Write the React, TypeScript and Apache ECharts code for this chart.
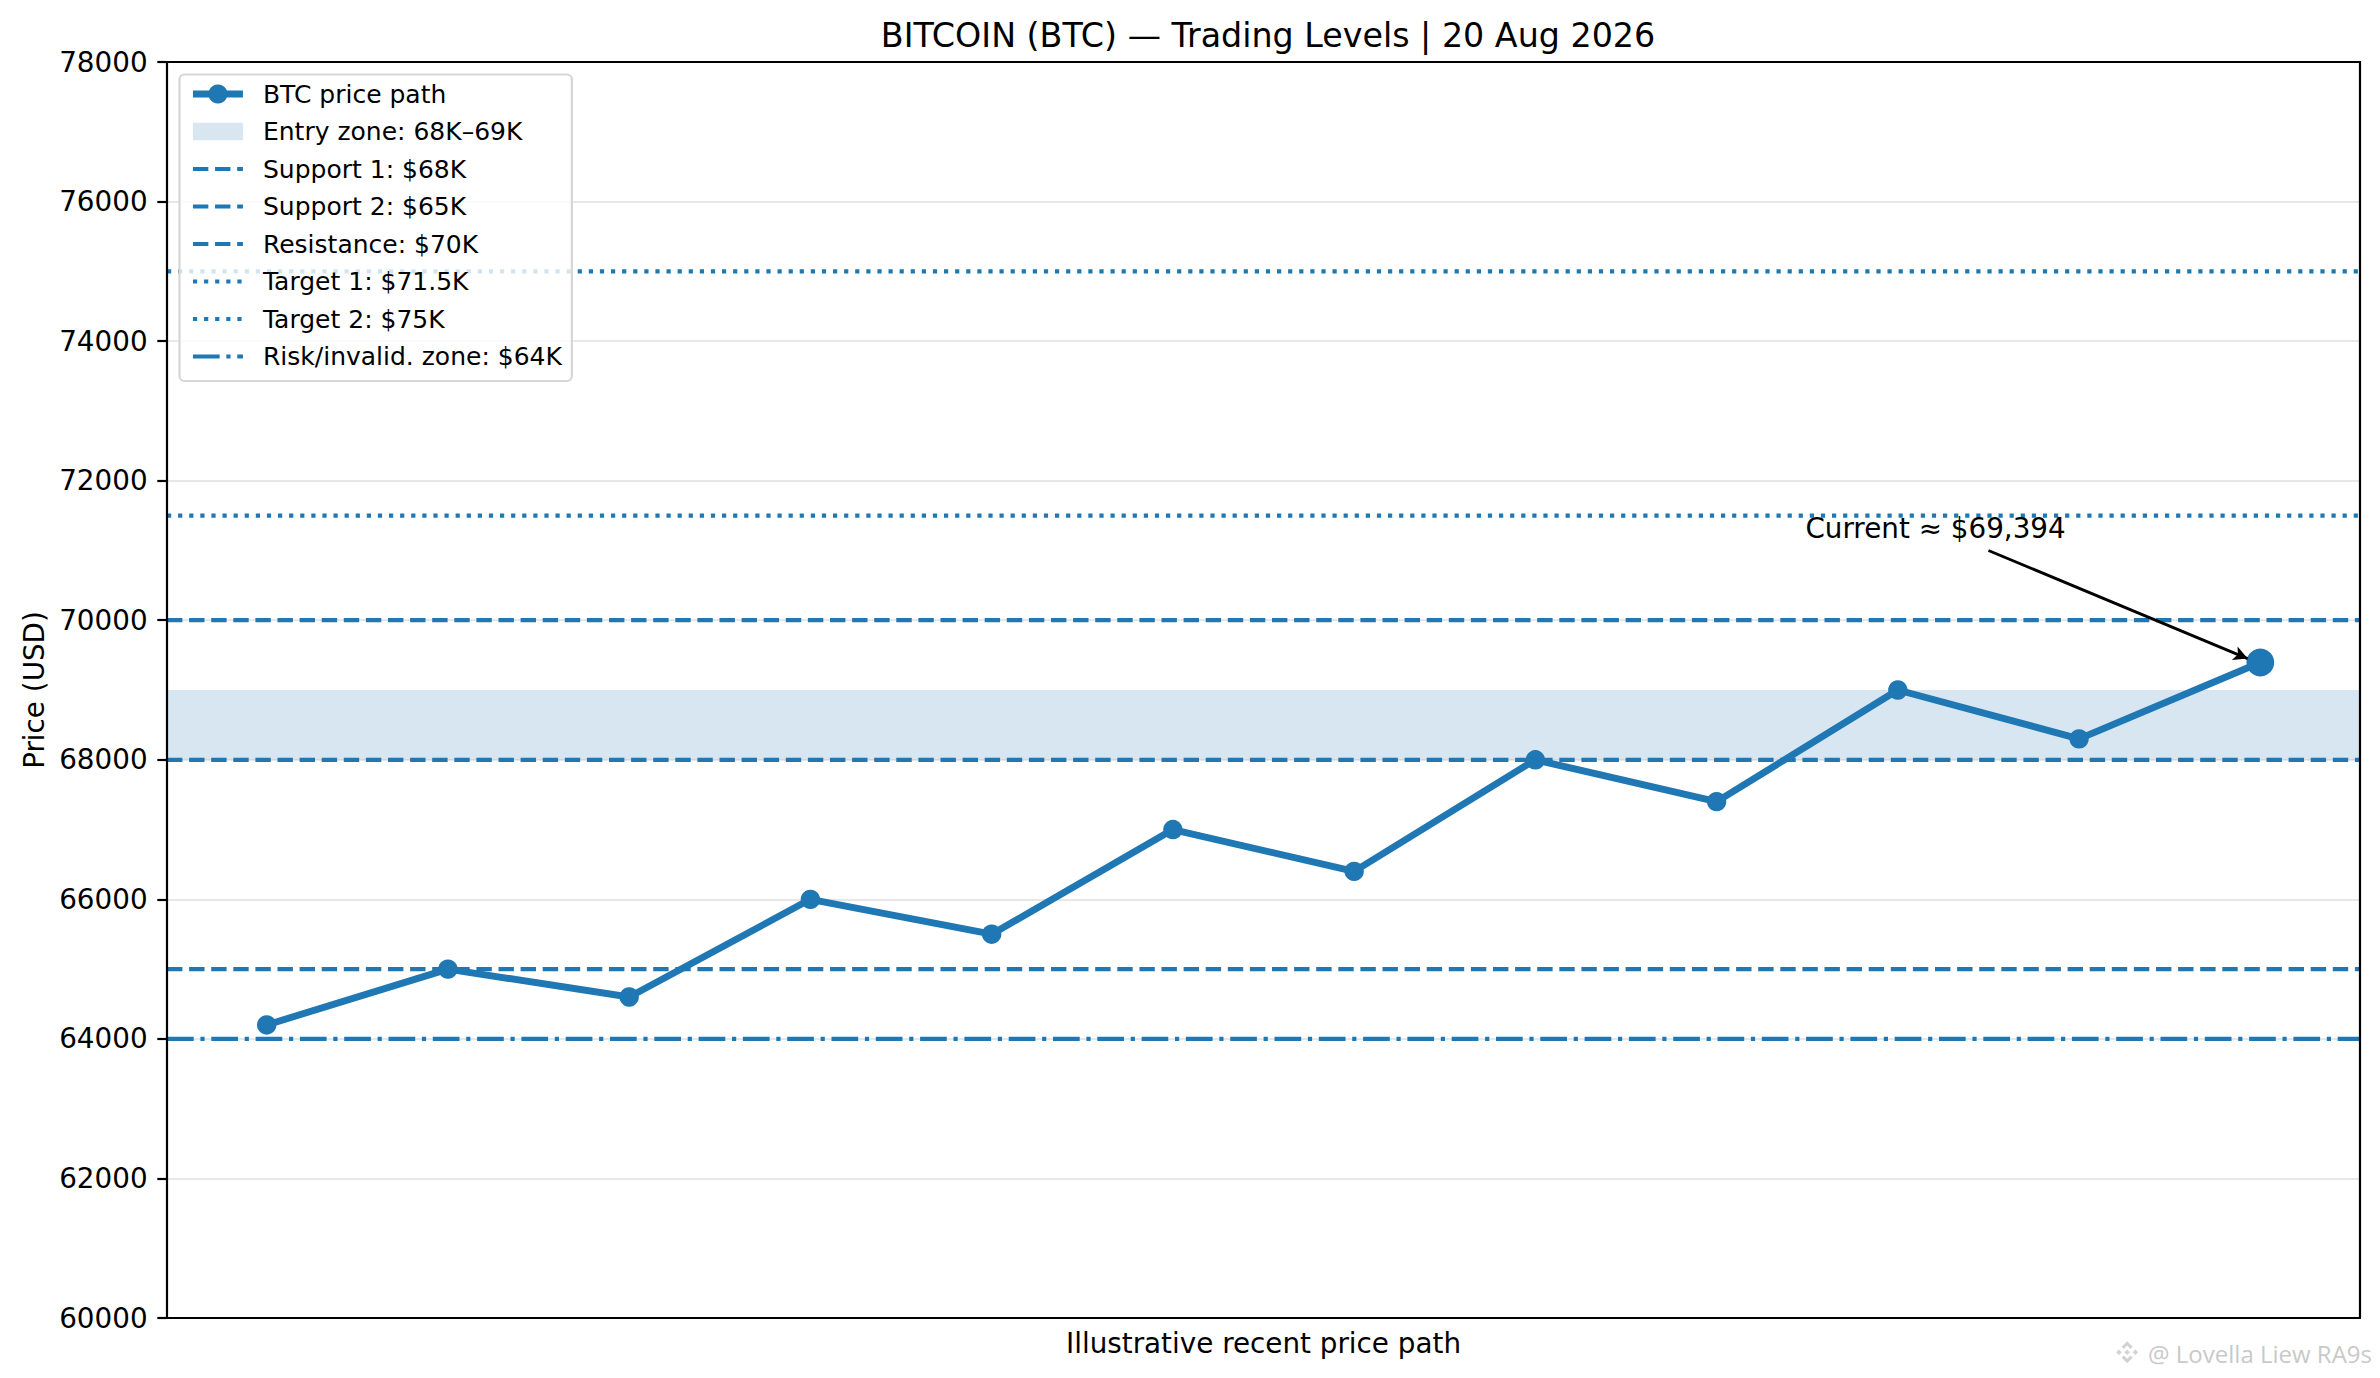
import { useEffect, useRef } from "react";
import * as echarts from "echarts";

// price path (index along x)
const prices = [64200, 65000, 64600, 66000, 65500, 67000, 66400, 68000, 67400, 69000, 68300, 69394];
const priceName = "BTC price path";

const zoneName = "Entry zone: 68K–69K";
const zoneRange = [68000, 69000];

const levelNames = [
  "Support 1: $68K",
  "Support 2: $65K",
  "Resistance: $70K",
  "Target 1: $71.5K",
  "Target 2: $75K",
  "Risk/invalid. zone: $64K",
];
const levelValues = [68000, 65000, 70000, 71500, 75000, 64000];
const levelKinds = ["dashed", "dashed", "dashed", "dotted", "dotted", "dashdot"];

const yMin = 60000;
const yMax = 78000;
const yStep = 2000;

const annotationText = "Current ≈ $69,394";
const annotationAnchor = [8.49, 71320];
const arrowStart = [9.5, 71000];
const arrowEnd = [10.93, 69450];

const BLUE = "#1f77b4";
const ZONE = "rgba(31,119,180,0.18)";
const FONT = "DejaVu Sans";

const DASH: Record<string, number[]> = {
  dashed: [15.4, 6.7],
  dotted: [4.2, 6.9],
  dashdot: [26.7, 6.7, 4.2, 6.7],
};

// matplotlib-like 5% margins on x
const xMin = -0.05 * (prices.length - 1);
const xMax = prices.length - 1 + 0.05 * (prices.length - 1);

// legend patch: 50x17.5 box inside a 50x24 icon (tiny corner anchors keep the box from stretching)
const ZONE_ICON =
  "path://M0,0L0.01,0L0,0.01Z M0,3.25L50,3.25L50,20.75L0,20.75Z M49.99,24L50,24L50,23.99Z";

const LOGO_D =
  "M12 2L17 7L15 9L12 6L9 9L7 7Z M12 22L7 17L9 15L12 18L15 15L17 17Z M2 12L4.5 9.5L7 12L4.5 14.5Z M22 12L19.5 9.5L17 12L19.5 14.5Z M12 9.5L14.5 12L12 14.5L9.5 12Z";
echarts.graphic.registerShape("logo", echarts.graphic.extendPath(LOGO_D, {}));

export default function App() {
  const chartRef = useRef<HTMLDivElement>(null);

  useEffect(() => {
    document.body.style.margin = "0";
    if (!chartRef.current) return;
    const chart = echarts.init(chartRef.current, undefined, { renderer: "svg" });

    const priceData = prices.map((v, i) =>
      i === prices.length - 1 ? { value: [i, v], symbolSize: 27.8 } : { value: [i, v] }
    );

    const levelSeries = levelNames.map((name, i) => ({
      type: "line",
      name,
      data: [
        [xMin, levelValues[i]],
        [xMax, levelValues[i]],
      ],
      symbol: "none",
      silent: true,
      z: 3,
      lineStyle: { color: BLUE, width: 4.2, type: DASH[levelKinds[i]] },
      itemStyle: { color: BLUE },
    }));

    const spine = { show: true, onZero: false, lineStyle: { color: "#000", width: 2.2 } };
    const bare = {
      axisTick: { show: false },
      axisLabel: { show: false },
      splitLine: { show: false },
    };

    const option: any = {
      animation: false,
      textStyle: { fontFamily: FONT },
      title: {
        text: "BITCOIN (BTC) — Trading Levels | 20 Aug 2026",
        left: 1263,
        top: 14,
        textAlign: "center",
        textStyle: { fontSize: 33.3, fontWeight: "normal", color: "#000", fontFamily: FONT },
      },
      legend: {
        orient: "vertical",
        left: 179.5,
        top: 74.5,
        z: 20,
        padding: [7, 10, 12, 10],
        itemWidth: 50,
        itemHeight: 24,
        itemGap: 12.5,
        backgroundColor: "rgba(255,255,255,0.8)",
        borderColor: "#d6d6d6",
        borderWidth: 2.2,
        borderRadius: 5,
        selectedMode: false,
        textStyle: { fontSize: 25, color: "#000", fontFamily: FONT, padding: [0, 0, 0, 15] },
        data: [
          { name: priceName, itemStyle: { color: BLUE }, lineStyle: { width: 6.9, type: "solid", color: BLUE } },
          { name: zoneName, icon: ZONE_ICON, itemStyle: { color: ZONE } },
          ...levelNames.map((name, i) => ({
            name,
            itemStyle: { opacity: 0, color: "rgba(0,0,0,0)" },
            lineStyle: { width: 4.2, type: DASH[levelKinds[i]], color: BLUE },
          })),
        ],
      },
      grid: {
        left: 167,
        right: 20,
        top: 62,
        bottom: 60,
        show: false,
      },
      xAxis: [
        {
          type: "value",
          min: xMin,
          max: xMax,
          name: "Illustrative recent price path",
          nameLocation: "middle",
          nameGap: 11,
          nameTextStyle: { fontSize: 27.8, color: "#000", fontFamily: FONT },
          axisLine: spine,
          ...bare,
          z: 10,
        },
        {
          type: "value",
          position: "top",
          min: xMin,
          max: xMax,
          axisLine: spine,
          ...bare,
          z: 10,
        },
      ],
      yAxis: [
        {
          type: "value",
          min: yMin,
          max: yMax,
          interval: yStep,
          name: "Price (USD)",
          nameLocation: "middle",
          nameGap: 113,
          nameTextStyle: { fontSize: 27.8, color: "#000", fontFamily: FONT },
          axisLine: spine,
          axisTick: { show: true, length: 9.7, lineStyle: { color: "#000", width: 2.2 } },
          axisLabel: {
            color: "#000",
            fontSize: 27.8,
            margin: 19.4,
            fontFamily: FONT,
            formatter: (v: number) => String(v),
          },
          splitLine: { show: false },
          z: 10,
        },
        {
          type: "value",
          position: "right",
          min: yMin,
          max: yMax,
          interval: yStep,
          axisLine: spine,
          ...bare,
          z: 10,
        },
        {
          // grid lines only, kept beneath the data
          type: "value",
          position: "right",
          min: yMin,
          max: yMax,
          interval: yStep,
          axisLine: { show: false },
          axisTick: { show: false },
          axisLabel: { show: false },
          splitLine: {
            show: true,
            showMinLine: false,
            showMaxLine: false,
            lineStyle: { color: "#e7e7e7", width: 2.2 },
          },
          z: 0,
        },
      ],
      series: [
        {
          type: "line",
          name: priceName,
          data: priceData,
          symbol: "circle",
          symbolSize: 19.4,
          z: 4,
          lineStyle: { color: BLUE, width: 6.9 },
          itemStyle: { color: BLUE },
          markLine: {
            silent: true,
            symbol: ["none", "arrow"],
            symbolSize: [11, 14],
            label: { show: false },
            lineStyle: { color: "#000", width: 2.8, type: "solid" },
            data: [[{ coord: arrowStart }, { coord: arrowEnd }]],
          },
          markPoint: {
            silent: true,
            symbol: "circle",
            symbolSize: 0,
            itemStyle: { color: "rgba(0,0,0,0)" },
            data: [
              {
                coord: annotationAnchor,
                label: {
                  show: true,
                  position: "right",
                  distance: 0,
                  formatter: annotationText,
                  color: "#000",
                  fontSize: 27.8,
                  fontFamily: FONT,
                },
              },
            ],
          },
        },
        {
          type: "line",
          name: zoneName,
          data: [],
          symbol: "none",
          z: 1,
          itemStyle: { color: ZONE },
          markArea: {
            silent: true,
            itemStyle: { color: ZONE },
            data: [[{ yAxis: zoneRange[0] }, { yAxis: zoneRange[1] }]],
          },
        },
        ...levelSeries,
      ],
      graphic: [
        { type: "logo", x: 2114, y: 1339, scaleX: 1.1, scaleY: 1.1, style: { fill: "#d2d2d2" } },
        {
          type: "text",
          x: 2372,
          y: 1353,
          style: {
            text: "@ Lovella Liew RA9s",
            align: "right",
            verticalAlign: "middle",
            fontSize: 24,
            fontFamily: "Open Sans",
            fill: "#c9c9c9",
          },
        },
      ],
    };

    chart.setOption(option);
    return () => chart.dispose();
  }, []);

  return <div ref={chartRef} style={{ width: 2380, height: 1378 }} />;
}
